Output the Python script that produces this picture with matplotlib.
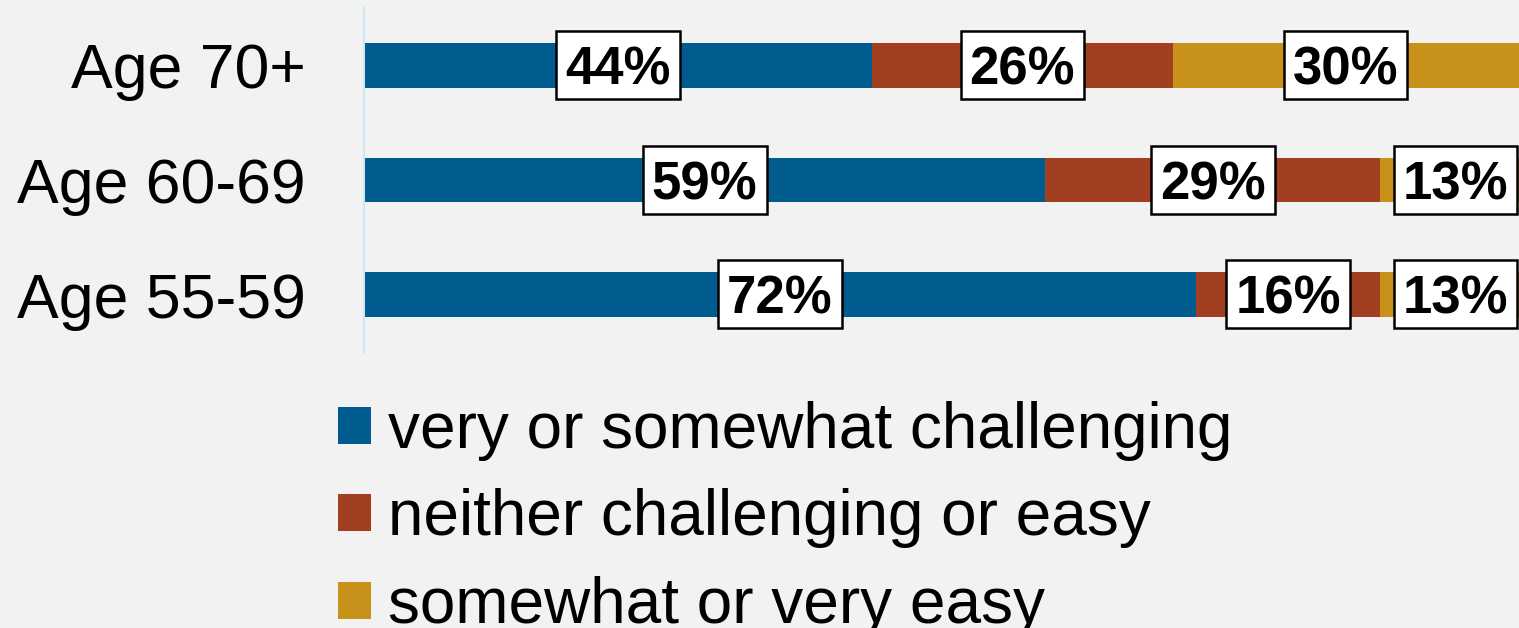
import matplotlib
matplotlib.use("Agg")
import matplotlib.pyplot as plt
from matplotlib.patches import Patch
from matplotlib.path import Path
from matplotlib.transforms import offset_copy

plt.rcParams['font.family'] = ['Liberation Sans', 'DejaVu Sans']

categories = ["Age 55-59", "Age 60-69", "Age 70+"]
series_names = ["very or somewhat challenging", "neither challenging or easy", "somewhat or very easy"]
challenging = [72, 59, 44]
neither = [16, 29, 26]
easy = [13, 13, 30]
colors = ["#005B8E", "#A33F21", "#C8911A"]
bg = "#F2F2F2"

W, H = 1519, 628
fig = plt.figure(figsize=(W / 100, H / 100), dpi=100, facecolor=bg)
ax = fig.add_axes([364 / W, (H - 352) / H, (1519 - 364) / W, 344 / H])
ax.set_facecolor(bg)


def label_box(x0, y0, width, height, mutation_size):
    pad = 0.17 * mutation_size
    shift = 0.1 * mutation_size
    xa, xb = x0 - pad, x0 + width + pad
    ya, yb = y0 - pad + shift, y0 + height + pad + shift
    return Path([(xa, ya), (xb, ya), (xb, yb), (xa, yb), (xa, ya)], closed=True)


txt_tr = offset_copy(ax.transData, fig=fig, x=0, y=-5, units='dots')

series = [challenging, neither, easy]
y = list(range(len(categories)))
left = [0] * len(categories)
for vals, col in zip(series, colors):
    ax.barh(y, vals, left=left, height=0.39, color=col, edgecolor='none')
    for yi, v, l in zip(y, vals, left):
        ax.text(l + v / 2, yi, f"{v}%", ha='center', va='center', fontsize=38,
                fontweight='bold', color='black', zorder=5, transform=txt_tr,
                bbox=dict(boxstyle=label_box, fc='white', ec='black', lw=1.8))
    left = [a + b for a, b in zip(left, vals)]

ax.set_xlim(0, 100)
ax.set_ylim(-0.5, 2.5)
ax.set_yticks(y)
ax.set_yticklabels(categories, fontsize=45)
ax.tick_params(axis='y', length=0, pad=42)
ax.set_xticks([])
for s in ['top', 'right', 'bottom']:
    ax.spines[s].set_visible(False)
ax.spines['left'].set_color('#CCE6F4')
ax.spines['left'].set_linewidth(1.5)

handles = [Patch(facecolor=c, edgecolor='none') for c in colors]
fig.legend(handles, series_names, loc='upper left', bbox_to_anchor=(338 / W, 1 - 401 / H),
           frameon=False, fontsize=46, handlelength=0.51, handleheight=0.51,
           handletextpad=0.27, labelspacing=0.43, borderpad=0, borderaxespad=0)

fig.savefig("out.png", dpi=100, facecolor=bg)
